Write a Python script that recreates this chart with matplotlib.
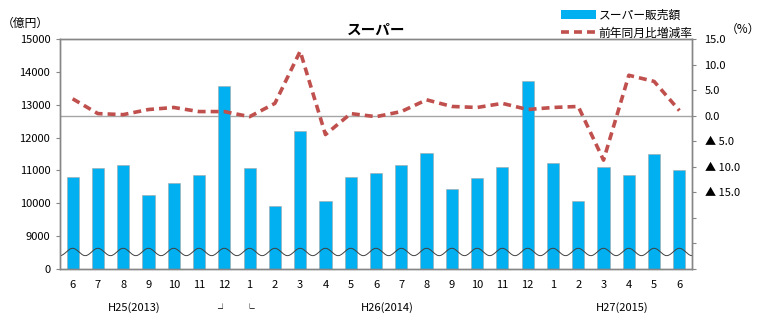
import numpy as np
import matplotlib
matplotlib.use("Agg")
import matplotlib.pyplot as plt
from matplotlib.transforms import blended_transform_factory
from matplotlib.patches import Patch
from matplotlib.lines import Line2D

plt.rcParams['font.family'] = ['Noto Sans CJK JP', 'DejaVu Sans']

# Monthly data, June 2013 - June 2015
months = ["6", "7", "8", "9", "10", "11", "12", "1", "2", "3", "4", "5",
          "6", "7", "8", "9", "10", "11", "12", "1", "2", "3", "4", "5", "6"]
sales = [10800, 11060, 11150, 10240, 10610, 10850, 13560, 11060, 9910, 12190,
         10060, 10790, 10910, 11150, 11520, 10430, 10760, 11090, 13710, 11220,
         10060, 11090, 10850, 11490, 11000]
yoy = [3.3, 0.4, 0.2, 1.2, 1.6, 0.8, 0.8, -0.2, 2.4, 12.6,
       -3.7, 0.4, -0.2, 0.8, 3.1, 1.8, 1.6, 2.4, 1.2, 1.6,
       1.8, -8.7, 7.9, 6.7, 1.0]
left_ticks = [0, 9000, 10000, 11000, 12000, 13000, 14000, 15000]
right_ticks = [-30, -25, -20, -15, -10, -5, 0, 5, 10, 15]
right_labels = ["", "", "", "▲ 15.0", "▲ 10.0", "▲ 5.0", "0.0", "5.0", "10.0", "15.0"]
years = [("H25(2013)", 2.45), ("H26(2014)", 12.45), ("H27(2015)", 21.75)]

BLUE = "#00B0F0"
RED = "#C0504D"
GRAY = "#868686"
FS = 8


# broken value axis: 0..9000 compressed into one step
def fwd(v):
    v = np.asarray(v, dtype=float)
    return np.where(v < 9000, v / 9.0, v - 8000.0)


def inv(u):
    u = np.asarray(u, dtype=float)
    return np.where(u < 1000, u * 9.0, u + 8000.0)


fig = plt.figure(figsize=(7.72, 3.29), dpi=100)
ax = fig.add_axes([0.0777, 0.1824, 0.8187, 0.6991])
ax2 = ax.twinx()

x = np.arange(len(months))
ax.set_yscale('function', functions=(fwd, inv))
ax.set_ylim(0, 15000)
ax.set_xlim(-0.5, len(months) - 0.5)

# zero line of the percentage axis, behind the bars
zl_tr = blended_transform_factory(ax.transAxes, ax2.transData)
ax.plot([0, 1], [0, 0], transform=zl_tr, color="#A6A6A6", lw=1.0, zorder=1)

ax.bar(x, sales, width=0.48, color=BLUE, edgecolor="#A6A6A6", linewidth=0.4, zorder=2)

# axis-break wave
wx = np.linspace(-0.5, len(months) - 0.5, 800)
wy = 0.074 + 0.016 * np.cos(2 * np.pi * wx)
wtr = blended_transform_factory(ax.transData, ax.transAxes)
ax.plot(wx, wy, transform=wtr, color="#404040", lw=0.7, zorder=3)

ax.set_yticks(left_ticks)
ax.set_yticklabels([str(t) for t in left_ticks], fontsize=FS)
ax.yaxis.set_minor_locator(matplotlib.ticker.NullLocator())
ax.set_xticks(x)
ax.set_xticklabels(months, fontsize=FS)
ax.tick_params(axis='x', length=0, pad=8)
ax.tick_params(axis='y', length=3, color=GRAY, pad=4)

ax2.plot(x, yoy, color=RED, lw=2.6, linestyle=(0, (2.2, 1.4)), zorder=4)
ax2.set_ylim(-30, 15)
ax2.set_yticks(right_ticks)
ax2.set_yticklabels(right_labels, fontsize=FS)
ax2.tick_params(axis='y', length=3, color=GRAY, pad=6)
for lbl in ax2.get_yticklabels():
    lbl.set_horizontalalignment('left')

for a in (ax, ax2):
    for s in a.spines.values():
        s.set_color(GRAY)
        s.set_linewidth(1.0)

ax.set_title("スーパー", fontsize=10.5, fontweight='bold', pad=3)

ytr = blended_transform_factory(ax.transData, ax.transAxes)
for name, pos in years:
    ax.text(pos, -0.167, name, transform=ytr, ha='center', va='center', fontsize=FS)
ax.text(5.92, -0.175, "┘", transform=ytr, ha='center', va='center', fontsize=7)
ax.text(6.98, -0.175, "└", transform=ytr, ha='center', va='center', fontsize=7)

fig.text(0.033, 0.928, "（億円）", ha='center', va='center', fontsize=8.5)
fig.text(0.962, 0.91, "（%）", ha='center', va='center', fontsize=8.5)

handles = [Patch(facecolor=BLUE, edgecolor='none'),
           Line2D([0], [0], color=RED, lw=2.6, linestyle=(0, (2.2, 1.4)))]
fig.legend(handles, ["スーパー販売額", "前年同月比増減率"], loc='upper left',
           bbox_to_anchor=(0.718, 0.995), frameon=False, fontsize=8.5,
           handlelength=2.9, handleheight=0.8, handletextpad=0.25,
           labelspacing=0.4, borderaxespad=0.2)

fig.savefig("out.png", dpi=100)
